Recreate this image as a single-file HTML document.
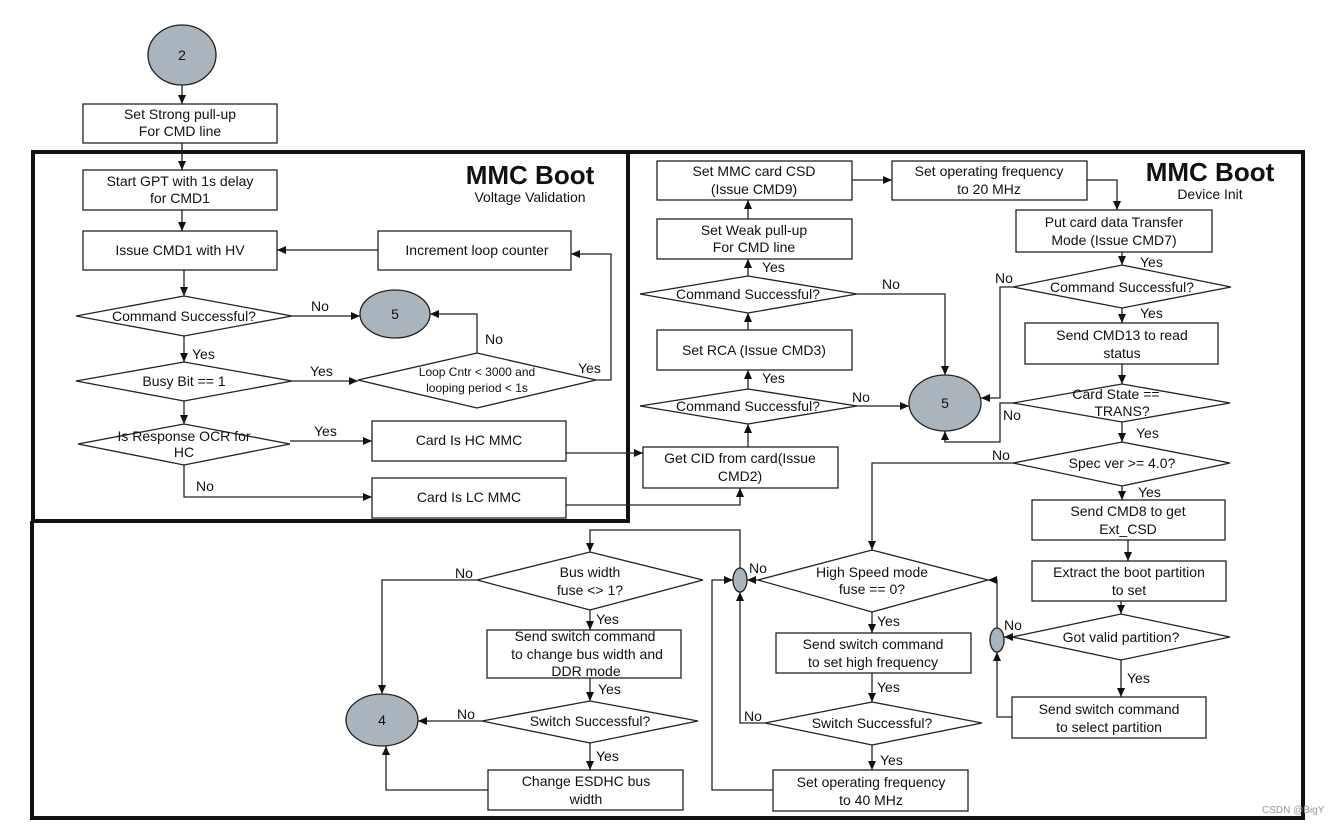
<!DOCTYPE html>
<html><head><meta charset="utf-8"><style>
html,body{margin:0;padding:0;background:#fff;}
svg{display:block;font-family:"Liberation Sans",Arial,sans-serif;}
text{font-size:14px;fill:#111;}
.b{fill:#fff;stroke:#222;stroke-width:1.3;}
.c{fill:#aab4bd;stroke:#222;stroke-width:1.3;}
.l{fill:none;stroke:#222;stroke-width:1.3;}
</style></head><body>
<svg width="1333" height="825" viewBox="0 0 1333 825" xmlns="http://www.w3.org/2000/svg">
<defs><marker id="a" markerWidth="10" markerHeight="10" refX="9" refY="5" orient="auto" markerUnits="userSpaceOnUse"><path d="M0,1 L9,5 L0,9 z" fill="#111"/></marker></defs>
<!-- frames -->
<polyline points="628,152 1303,152 1303,818 32,818 32,521" fill="none" stroke="#111" stroke-width="4"/>
<rect x="33" y="152" width="595" height="369" fill="none" stroke="#111" stroke-width="4"/>
<text x="530" y="184" text-anchor="middle" style="font-size:26px;font-weight:bold">MMC Boot</text>
<text x="530" y="202" text-anchor="middle">Voltage Validation</text>
<text x="1210" y="181" text-anchor="middle" style="font-size:26px;font-weight:bold">MMC Boot</text>
<text x="1210" y="199" text-anchor="middle">Device Init</text>

<g text-anchor="middle">
<!-- left top -->
<ellipse class="c" cx="182" cy="55" rx="34" ry="30"/><text x="182" y="60">2</text>
<rect class="b" x="83" y="104" width="194" height="39"/><text x="180" y="119">Set Strong pull-up</text><text x="180" y="136">For CMD line</text>
<rect class="b" x="83" y="170" width="194" height="40"/><text x="180" y="186">Start GPT with 1s delay</text><text x="180" y="203">for CMD1</text>
<rect class="b" x="83" y="231" width="194" height="39"/><text x="180" y="255">Issue CMD1 with HV</text>
<rect class="b" x="378" y="231" width="193" height="39"/><text x="477" y="255">Increment loop counter</text>
<polygon class="b" points="76,316 184,296 292,316 184,336"/><text x="184" y="321">Command Successful?</text>
<ellipse class="c" cx="395" cy="314" rx="35" ry="24"/><text x="395" y="319">5</text>
<polygon class="b" points="76,381 184,362 292,381 184,401"/><text x="184" y="386">Busy Bit == 1</text>
<polygon class="b" points="358,380 477,353 596,380 477,408"/><text x="477" y="376" style="font-size:12px">Loop Cntr &lt; 3000 and</text><text x="477" y="392" style="font-size:12px">looping period &lt; 1s</text>
<polygon class="b" points="78,444 184,424 290,444 184,465"/><text x="184" y="441">Is Response OCR for</text><text x="184" y="457">HC</text>
<rect class="b" x="372" y="421" width="194" height="40"/><text x="469" y="445">Card Is HC MMC</text>
<rect class="b" x="372" y="478" width="194" height="40"/><text x="469" y="502">Card Is LC MMC</text>

<!-- right middle column -->
<rect class="b" x="657" y="161" width="195" height="39"/><text x="754" y="176">Set MMC card CSD</text><text x="754" y="194">(Issue CMD9)</text>
<rect class="b" x="892" y="161" width="195" height="39"/><text x="989" y="176">Set operating frequency</text><text x="989" y="194">to 20 MHz</text>
<rect class="b" x="657" y="219" width="195" height="40"/><text x="754" y="235">Set Weak pull-up</text><text x="754" y="252">For CMD line</text>
<polygon class="b" points="640,294 748,276 857,294 748,313"/><text x="748" y="299">Command Successful?</text>
<rect class="b" x="657" y="330" width="195" height="40"/><text x="754" y="355">Set RCA (Issue CMD3)</text>
<polygon class="b" points="640,406 748,389 857,406 748,424"/><text x="748" y="411">Command Successful?</text>
<rect class="b" x="643" y="447" width="195" height="41"/><text x="740" y="463">Get CID from card(Issue</text><text x="740" y="481">CMD2)</text>
<ellipse class="c" cx="945" cy="403" rx="36" ry="28"/><text x="945" y="408">5</text>

<rect class="b" x="1016" y="210" width="196" height="42"/><text x="1114" y="227">Put card data Transfer</text><text x="1114" y="245">Mode (Issue CMD7)</text>
<polygon class="b" points="1013,287 1122,265 1231,287 1122,308"/><text x="1122" y="292">Command Successful?</text>
<rect class="b" x="1025" y="323" width="193" height="41"/><text x="1122" y="340">Send CMD13 to read</text><text x="1122" y="358">status</text>
<polygon class="b" points="1013,403 1122,384 1230,403 1122,422"/><text x="1116" y="399">Card State ==</text><text x="1122" y="416">TRANS?</text>
<polygon class="b" points="1013,463 1122,442 1230,463 1122,486"/><text x="1122" y="468">Spec ver &gt;= 4.0?</text>
<rect class="b" x="1032" y="500" width="193" height="40"/><text x="1128" y="516">Send CMD8 to get</text><text x="1128" y="534">Ext_CSD</text>
<rect class="b" x="1032" y="561" width="194" height="40"/><text x="1129" y="577">Extract the boot partition</text><text x="1129" y="595">to set</text>
<polygon class="b" points="1012,637 1121,614 1230,637 1121,660"/><text x="1121" y="642">Got valid partition?</text>
<rect class="b" x="1012" y="697" width="194" height="41"/><text x="1109" y="714">Send switch command</text><text x="1109" y="732">to select partition</text>
<ellipse class="c" cx="997" cy="640" rx="7" ry="12"/>

<polygon class="b" points="758,580 872,550 988,580 872,612"/><text x="872" y="577">High Speed mode</text><text x="872" y="594">fuse == 0?</text>
<ellipse class="c" cx="740" cy="580" rx="7" ry="12"/>
<rect class="b" x="776" y="633" width="195" height="40"/><text x="873" y="649">Send switch command</text><text x="873" y="667">to set high frequency</text>
<polygon class="b" points="765,723 872,702 982,723 872,745"/><text x="872" y="728">Switch Successful?</text>
<rect class="b" x="773" y="770" width="195" height="41"/><text x="871" y="787">Set operating frequency</text><text x="871" y="805">to 40 MHz</text>

<polygon class="b" points="477,580 590,552 703,580 590,610"/><text x="590" y="577">Bus width</text><text x="590" y="595">fuse &lt;&gt; 1?</text>
<rect class="b" x="487" y="630" width="194" height="48"/><text x="585" y="641">Send switch command</text><text x="587" y="659">to change bus width and</text><text x="586" y="676">DDR mode</text>
<polygon class="b" points="482,721 590,701 698,721 590,743"/><text x="590" y="726">Switch Successful?</text>
<rect class="b" x="488" y="770" width="195" height="40"/><text x="586" y="786">Change ESDHC bus</text><text x="586" y="804">width</text>
<ellipse class="c" cx="382" cy="720" rx="36" ry="26"/><text x="382" y="725">4</text>
</g>

<!-- connectors -->
<g class="l" marker-end="url(#a)">
<line x1="182" y1="85" x2="182" y2="104"/>
<line x1="182" y1="143" x2="182" y2="170"/>
<line x1="182" y1="210" x2="182" y2="231"/>
<line x1="184" y1="270" x2="184" y2="296"/>
<line x1="292" y1="316" x2="360" y2="316"/>
<line x1="184" y1="336" x2="184" y2="362"/>
<line x1="292" y1="381" x2="358" y2="381"/>
<polyline points="477,353 477,314 430,314"/>
<polyline points="596,380 611,380 611,254 571,254"/>
<line x1="378" y1="250" x2="277" y2="250"/>
<line x1="184" y1="401" x2="184" y2="424"/>
<line x1="290" y1="441" x2="372" y2="441"/>
<polyline points="184,465 184,497 372,497"/>
<polyline points="566,453 643,453"/>
<polyline points="566,505 740,505 740,488"/>
<line x1="748" y1="447" x2="748" y2="424"/>
<line x1="748" y1="389" x2="748" y2="370"/>
<line x1="748" y1="330" x2="748" y2="313"/>
<line x1="748" y1="276" x2="748" y2="259"/>
<line x1="748" y1="219" x2="748" y2="200"/>
<line x1="852" y1="180" x2="892" y2="180"/>
<polyline points="1087,180 1117,180 1117,210"/>
<line x1="857" y1="406" x2="909" y2="406"/>
<polyline points="857,294 945,294 945,375"/>
<line x1="1122" y1="252" x2="1122" y2="265"/>
<polyline points="1013,287 1000,287 1000,398 981,398"/>
<line x1="1122" y1="308" x2="1122" y2="323"/>
<line x1="1122" y1="364" x2="1122" y2="384"/>
<polyline points="1013,403 1000,403 1000,442 945,442 945,431"/>
<line x1="1122" y1="422" x2="1122" y2="442"/>
<polyline points="1013,463 872,463 872,550"/>
<line x1="1122" y1="486" x2="1122" y2="500"/>
<line x1="1128" y1="540" x2="1128" y2="561"/>
<line x1="1121" y1="601" x2="1121" y2="614"/>
<line x1="1012" y1="637" x2="1004" y2="637"/>
<line x1="1121" y1="660" x2="1121" y2="697"/>
<polyline points="1012,717 997,717 997,652"/>
<polyline points="997,628 997,580 988,580"/>
<line x1="758" y1="580" x2="747" y2="580"/>
<polyline points="740,568 740,530 590,530 590,552"/>
<line x1="872" y1="612" x2="872" y2="633"/>
<line x1="872" y1="673" x2="872" y2="702"/>
<line x1="872" y1="745" x2="872" y2="770"/>
<polyline points="765,723 740,723 740,592"/>
<polyline points="773,790 712,790 712,580 733,580"/>
<polyline points="477,580 382,580 382,694"/>
<line x1="590" y1="610" x2="590" y2="630"/>
<line x1="590" y1="678" x2="590" y2="701"/>
<line x1="482" y1="721" x2="418" y2="721"/>
<line x1="590" y1="743" x2="590" y2="770"/>
<polyline points="488,790 386,790 386,746"/>
</g>

<!-- labels -->
<g>
<text x="311" y="311">No</text><text x="192" y="359">Yes</text><text x="310" y="376">Yes</text>
<text x="485" y="344">No</text><text x="578" y="373">Yes</text><text x="314" y="436">Yes</text><text x="196" y="491">No</text>
<text x="762" y="272">Yes</text><text x="882" y="289">No</text><text x="762" y="383">Yes</text><text x="852" y="402">No</text>
<text x="1140" y="267">Yes</text><text x="995" y="283">No</text><text x="1140" y="318">Yes</text>
<text x="1003" y="420">No</text><text x="1136" y="438">Yes</text><text x="992" y="460">No</text><text x="1138" y="497">Yes</text>
<text x="1004" y="630">No</text><text x="1127" y="683">Yes</text>
<text x="749" y="573">No</text><text x="877" y="626">Yes</text><text x="877" y="692">Yes</text><text x="744" y="721">No</text><text x="880" y="765">Yes</text>
<text x="455" y="578">No</text><text x="596" y="624">Yes</text><text x="598" y="694">Yes</text><text x="457" y="719">No</text><text x="596" y="761">Yes</text>
<text x="1262" y="813" style="font-size:10px;fill:#999">CSDN @BigY</text>
</g>
</svg>
</body></html>
